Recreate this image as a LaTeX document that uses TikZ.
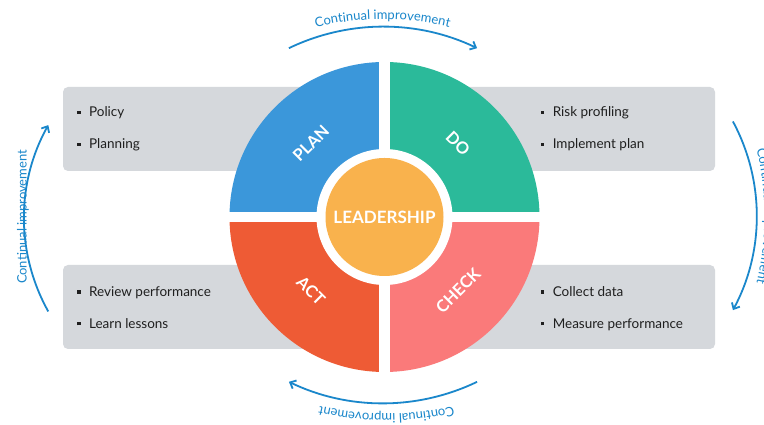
\documentclass[tikz,border=0pt]{standalone}
\usepackage{fontspec}
\setmainfont{Lato}
\usetikzlibrary{arrows.meta,decorations.text,calc}
\definecolor{cplan}{HTML}{3B97DA}
\definecolor{cdo}{HTML}{2BBA9A}
\definecolor{cact}{HTML}{EE5B35}
\definecolor{ccheck}{HTML}{FA7A7A}
\definecolor{clead}{HTML}{F9B24D}
\definecolor{cgray}{HTML}{D5D8DC}
\definecolor{carrow}{HTML}{1A87CB}
\definecolor{ctext}{HTML}{1F1F1F}
\newcommand{\arcfont}{\fontsize{13}{15}\selectfont}
\newcommand{\bul}{\raisebox{3pt}{\rule{3.4pt}{3.4pt}}\hspace{8.5pt}}
\begin{document}
\begin{tikzpicture}[x=1pt,y=1pt,
  graybox/.style={fill=cgray, rounded corners=5pt, minimum width=652pt, minimum height=84pt, inner sep=0pt},
  item/.style={anchor=base west, inner sep=0pt, text=ctext, font=\fontsize{13.5}{16}\selectfont},
  quadlabel/.style={text=white, font=\bfseries\fontsize{16.5}{18}\selectfont, inner sep=0pt},
  loop/.style={draw=carrow, line width=1.8pt, -{Straight Barb[length=5pt,width=9pt]}},
  arctext/.style={decorate, decoration={text along path, text align=center, text color=carrow, text={|\arcfont|Continual improvement}}},
  ]
\useasboundingbox (0,0) rectangle (764,425);
\clip (0,0) rectangle (764,425);
\fill[white] (0,0) rectangle (764,425);
% gray boxes
\node[graybox] (topbox) at (389,296) {};
\node[graybox] (botbox) at (389,118) {};
% circle quadrants
\coordinate (C) at (384.5,208);
\fill[cplan]  (C) -- ++(180:155) arc[start angle=180,end angle=90,radius=155] -- cycle;
\fill[cdo]    (C) -- ++(90:155) arc[start angle=90,end angle=0,radius=155] -- cycle;
\fill[ccheck] (C) -- ++(0:155) arc[start angle=0,end angle=-90,radius=155] -- cycle;
\fill[cact]   (C) -- ++(-90:155) arc[start angle=-90,end angle=-180,radius=155] -- cycle;
\draw[white, line width=10.5pt] ($(C)+(-156,0)$) -- ($(C)+(156,0)$);
\draw[white, line width=10.5pt] ($(C)+(0,-156)$) -- ($(C)+(0,156)$);
\fill[white] (C) circle[radius=68];
\node[circle, fill=clead, minimum size=118pt, inner sep=0pt, text=white, font=\bfseries\fontsize{17}{20}\selectfont] (lead) at (C) {LEADERSHIP};
% quadrant labels
\node[quadlabel, rotate=45]  (plan)  at ($(C)+(135:104)$) {PLAN};
\node[quadlabel, rotate=-45] (do)    at ($(C)+(45:104)$) {DO};
\node[quadlabel, rotate=-45] (act)   at ($(C)+(-135:104)$) {ACT};
\node[quadlabel, rotate=45]  (check) at ($(C)+(-45:104)$) {CHECK};
% items
\node[item] (policy)  at (77,308) {\bul Policy};
\node[item] (planning) at (77,276) {\bul Planning};
\node[item] (review)  at (77,128.3) {\bul Review performance};
\node[item] (learn)   at (77,96.7) {\bul Learn lessons};
\node[item] (risk)    at (540.7,308) {\bul Risk profiling};
\node[item] (implement) at (540.7,276) {\bul Implement plan};
\node[item] (collect) at (540.7,128.3) {\bul Collect data};
\node[item] (measure) at (540.7,96.7) {\bul Measure performance};
% continual improvement arcs
\coordinate (topstart) at ($(383,181.3)+(115.7:217)$);
\draw[loop] (topstart) arc[start angle=115.7,end angle=64.3,radius=217];
\coordinate (botstart) at ($(383,238.7)+(-64.3:217)$);
\draw[loop] (botstart) arc[start angle=-64.3,end angle=-115.7,radius=217];
\coordinate (leftstart) at ($(215,206.7)+(209.2:191)$);
\draw[loop] (leftstart) arc[start angle=209.2,end angle=150.8,radius=191];
\coordinate (rightstart) at ($(557.7,209.2)+(28.3:199)$);
\draw[loop] (rightstart) arc[start angle=28.3,end angle=-28.3,radius=199];
% labels
\path[arctext] ($(382.5,120.7)+(120:285)$) arc[start angle=120,end angle=60,radius=285];
\path[arctext] ($(386.5,296)+(-60:285)$) arc[start angle=-60,end angle=-120,radius=285];
\path[arctext] ($(479.5,209)+(30:285)$) arc[start angle=30,end angle=-30,radius=285];
\node[rotate=90, anchor=base, text=carrow, font=\arcfont, inner sep=0pt] (lefttext) at (26.7,208) {Continual improvement};
\end{tikzpicture}
\end{document}
